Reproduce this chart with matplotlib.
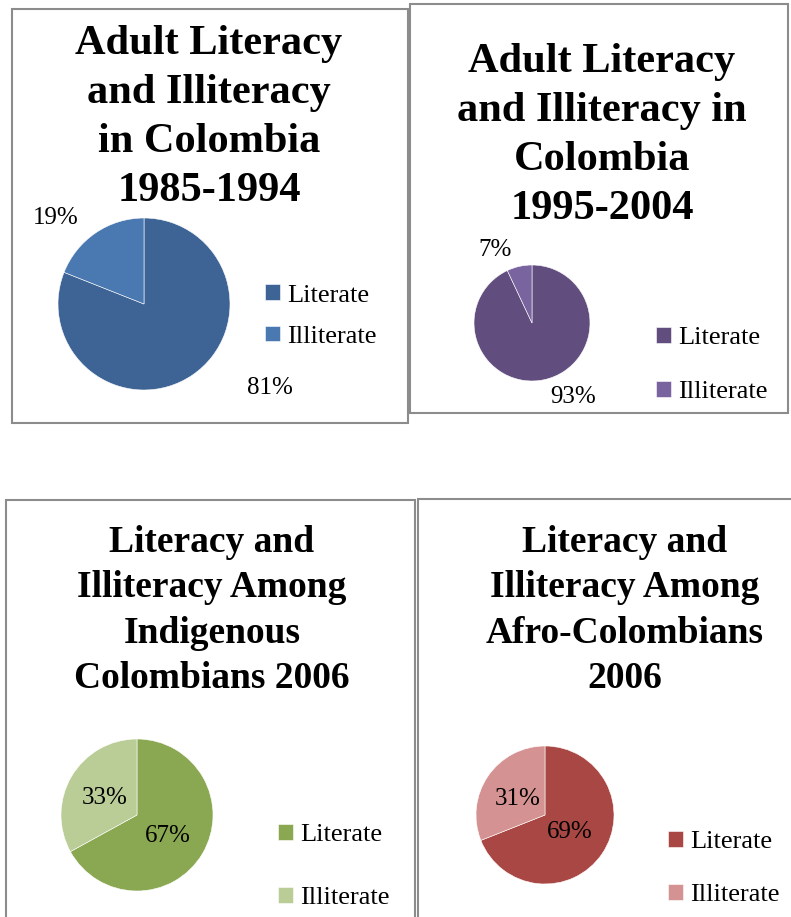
import matplotlib.pyplot as plt
from matplotlib.patches import Rectangle

plt.rcParams['font.family'] = ['Liberation Serif', 'DejaVu Serif']

W, H = 791, 917

# ---------------- data ----------------
categories = ["Literate", "Illiterate"]

titles = [
    "Adult Literacy\nand Illiteracy\nin Colombia\n1985-1994",
    "Adult Literacy\nand Illiteracy in\nColombia\n1995-2004",
    "Literacy and\nIlliteracy Among\nIndigenous\nColombians 2006",
    "Literacy and\nIlliteracy Among\nAfro-Colombians\n2006",
]
values_8594 = [81, 19]
values_9504 = [93, 7]
values_indig = [67, 33]
values_afro = [69, 31]

colors_8594 = ['#3e6496', '#4a78b0']
colors_9504 = ['#614e7e', '#7a649f']
colors_indig = ['#8aa751', '#bacd97']
colors_afro = ['#a94744', '#d49392']

# ---------------- layout (pixels) ----------------
def fx(x):
    return x / W

def fy(y):
    return 1 - y / H

panels = [
    # border box, title centre, title size, pie centre + radius, label spots, legend anchor, legend spacing
    dict(box=(12, 9, 408, 423), tpos=(209, 117.5), tsize=30.5, ls=1.37, pie=(144, 304, 86),
         lab=[(1.47, -0.98), (-1.03, 1.0)], leg=(265, 316), sp=0.72,
         vals=values_8594, cols=colors_8594),
    dict(box=(410, 4, 788, 413), tpos=(602, 135.5), tsize=30.5, ls=1.37, pie=(532, 323, 58),
         lab=[(0.71, -1.28), (-0.64, 1.26)], leg=(656, 365), sp=1.22,
         vals=values_9504, cols=colors_9504),
    dict(box=(6, 500, 415, 930), tpos=(212, 610.5), tsize=27, ls=1.38, pie=(137, 815, 76),
         lab=[(0.41, -0.28), (-0.42, 0.22)], leg=(278, 866.5), sp=1.55,
         vals=values_indig, cols=colors_indig),
    dict(box=(418, 499, 800, 930), tpos=(625, 610.5), tsize=27, ls=1.38, pie=(545, 815, 69),
         lab=[(0.36, -0.25), (-0.39, 0.23)], leg=(668, 868.5), sp=1.17,
         vals=values_afro, cols=colors_afro),
]

fig = plt.figure(figsize=(W / 100, H / 100), dpi=100)
fig.patch.set_facecolor('white')

for p, title in zip(panels, titles):
    x0, y0, x1, y1 = p['box']
    fig.patches.append(Rectangle((fx(x0), fy(y1)), fx(x1 - x0), (y1 - y0) / H,
                                 transform=fig.transFigure, fill=False,
                                 edgecolor='#8c8c8c', lw=1.5))

    fig.text(fx(p['tpos'][0]), fy(p['tpos'][1]), title, ha='center', va='center',
             fontsize=p['tsize'], fontweight='bold', linespacing=p['ls'])

    cx, cy, r = p['pie']
    ax = fig.add_axes([fx(cx - r), fy(cy + r), 2 * r / W, 2 * r / H])
    wedges, _ = ax.pie(p['vals'], colors=p['cols'], startangle=90, counterclock=False,
                       wedgeprops=dict(edgecolor='white', linewidth=0.4))
    ax.set_xlim(-1, 1)
    ax.set_ylim(-1, 1)
    ax.set_aspect('equal')
    ax.axis('off')

    for v, (lx, ly) in zip(p['vals'], p['lab']):
        ax.text(lx, ly, "%d%%" % v, ha='center', va='center', fontsize=18,
                color='black', clip_on=False)

    fig.legend(wedges, categories, loc='center left',
               bbox_to_anchor=(fx(p['leg'][0]), fy(p['leg'][1])),
               bbox_transform=fig.transFigure, frameon=False, fontsize=19,
               handlelength=0.55, handleheight=0.55, handletextpad=0.3,
               labelspacing=p['sp'], borderpad=0, borderaxespad=0)

plt.savefig('out.png', dpi=100, facecolor='w')
